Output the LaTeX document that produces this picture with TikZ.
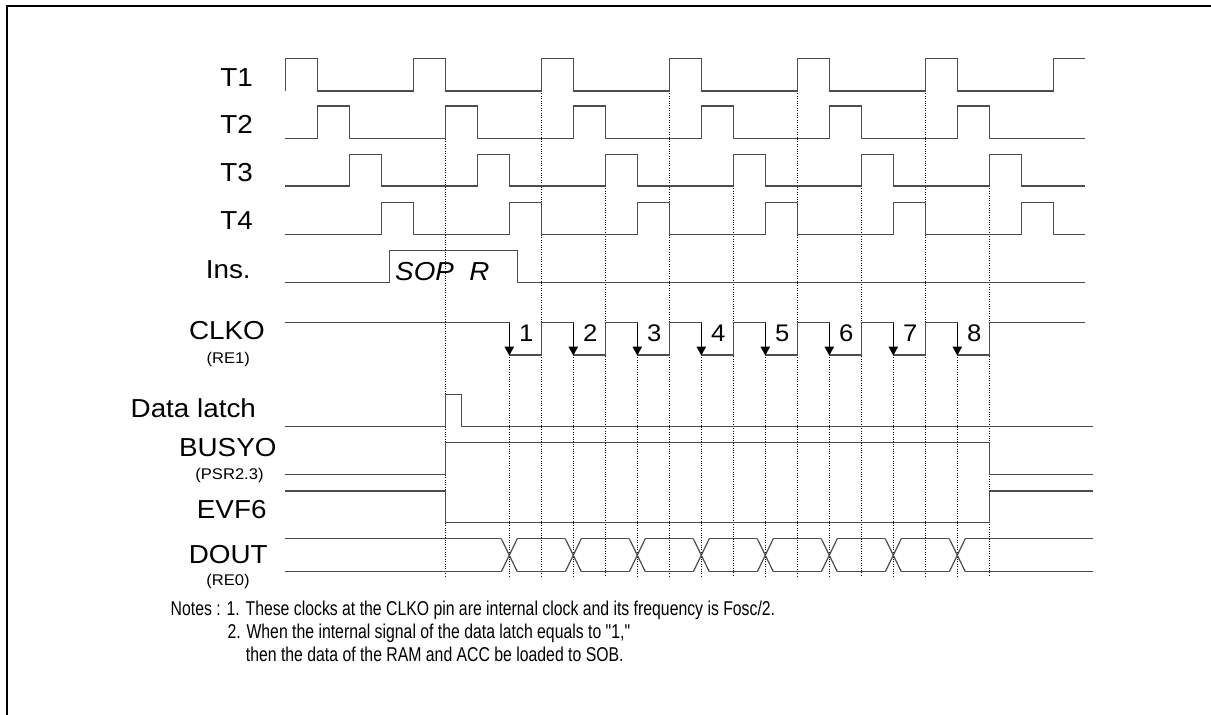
\documentclass[tikz,border=0pt]{standalone}
\usepackage{fontspec}
\setmainfont{Liberation Sans}
\newfontfamily\labfont[FakeStretch=1.07]{Liberation Sans}
\newfontfamily\notefont[FakeStretch=0.79]{Liberation Sans}
\usetikzlibrary{arrows.meta}
\newcommand\KX[1]{285.3+32*(#1)}
\begin{document}
\begin{tikzpicture}[x=1pt,y=-1pt,
  sig/.style={draw=black!70,line width=1.2pt},
  dotline/.style={draw=black,line width=0.7pt,dash pattern=on 0.8pt off 1.6pt},
  clkarrow/.style={draw=black,line width=1.1pt,-{Triangle[width=9.5pt,length=9pt]}},
  lab/.style={font={\labfont\fontsize{26}{30}\selectfont},anchor=base,inner sep=0pt},
  sublab/.style={font={\labfont\fontsize{15.5}{18}\selectfont},anchor=base,inner sep=0pt},
  num/.style={font={\labfont\fontsize{24}{28}\selectfont},anchor=base,inner sep=0pt},
  note/.style={font={\notefont\fontsize{20}{24}\selectfont},anchor=base west,inner sep=0pt}]
\useasboundingbox (0,0) rectangle (1211,715);
\fill[white] (0,0) rectangle (1211,715);
% frame
\draw[line width=2pt] (7,720) -- (7,6) -- (1220,6);
% dotted guides
\draw[dotline] ({\KX{5}},138.7) -- ({\KX{5}},577);
\foreach \k in {8,12,16,20} \draw[dotline] ({\KX{\k}},91) -- ({\KX{\k}},577);
\foreach \k in {10,14,18,22} \draw[dotline] ({\KX{\k}},186) -- ({\KX{\k}},577);
\foreach \k in {7,9,...,21} \draw[dotline] ({\KX{\k}},355) -- ({\KX{\k}},577);
% T1
\draw[sig] ({\KX{0}},91) \foreach \k in {0,4,...,20}{ -- ({\KX{\k}},91) -- ({\KX{\k}},58.3) -- ({\KX{\k+1}},58.3) -- ({\KX{\k+1}},91)} -- ({\KX{24}},91) -- ({\KX{24}},58.3) -- ({\KX{25}},58.3);
% T2
\draw[sig] ({\KX{0}},138.7) \foreach \k in {1,5,...,21}{ -- ({\KX{\k}},138.7) -- ({\KX{\k}},106) -- ({\KX{\k+1}},106) -- ({\KX{\k+1}},138.7)} -- ({\KX{25}},138.7);
% T3
\draw[sig] ({\KX{0}},186) \foreach \k in {2,6,...,22}{ -- ({\KX{\k}},186) -- ({\KX{\k}},154.3) -- ({\KX{\k+1}},154.3) -- ({\KX{\k+1}},186)} -- ({\KX{25}},186);
% T4
\draw[sig] ({\KX{0}},234.3) \foreach \k in {3,7,...,23}{ -- ({\KX{\k}},234.3) -- ({\KX{\k}},202.7) -- ({\KX{\k+1}},202.7) -- ({\KX{\k+1}},234.3)} -- ({\KX{25}},234.3);
% Ins
\draw[sig] ({\KX{0}},282.7) -- ({\KX{3.25}},282.7) -- ({\KX{3.25}},250.7) -- ({\KX{7.25}},250.7) -- ({\KX{7.25}},282.7) -- ({\KX{25}},282.7);
% CLKO
\draw[sig] ({\KX{0}},322.7) \foreach \k in {7,9,...,21}{ -- ({\KX{\k}},322.7) -- ({\KX{\k}},355) -- ({\KX{\k+1}},355) -- ({\KX{\k+1}},322.7)} -- ({\KX{25}},322.7);
\foreach \k in {7,9,...,21} \draw[clkarrow] ({\KX{\k}},322.7) -- ({\KX{\k}},355.5);
\foreach \k/\n in {7/1,9/2,11/3,13/4,15/5,17/6,19/7,21/8} \node[num] (num\n) at ({\KX{\k}+17},341.7) {\n};
% Data latch
\draw[sig] ({\KX{0}},426.7) -- ({\KX{5}},426.7) -- ({\KX{5}},394.3) -- ({\KX{5.5}},394.3) -- ({\KX{5.5}},426.7) -- ({\KX{25.25}},426.7);
% BUSYO
\draw[sig] ({\KX{0}},474.3) -- ({\KX{5}},474.3) -- ({\KX{5}},442.7) -- ({\KX{22}},442.7) -- ({\KX{22}},474.3) -- ({\KX{25.25}},474.3);
% EVF6
\draw[sig] ({\KX{0}},491) -- ({\KX{5}},491) -- ({\KX{5}},522.7) -- ({\KX{22}},522.7) -- ({\KX{22}},491) -- ({\KX{25.25}},491);
% DOUT
\draw[sig] ({\KX{0}},538.7) -- ({\KX{7}-8},538.7);
\draw[sig] ({\KX{0}},571.7) -- ({\KX{7}-8},571.7);
\foreach \k in {7,9,...,21}{
  \draw[sig] ({\KX{\k}-8},538.7) -- ({\KX{\k}+8},571.7);
  \draw[sig] ({\KX{\k}-8},571.7) -- ({\KX{\k}+8},538.7);
}
\foreach \k in {7,9,...,19}{
  \draw[sig] ({\KX{\k}+8},538.7) -- ({\KX{\k+2}-8},538.7);
  \draw[sig] ({\KX{\k}+8},571.7) -- ({\KX{\k+2}-8},571.7);
}
\draw[sig] ({\KX{21}+8},538.7) -- ({\KX{25.25}},538.7);
\draw[sig] ({\KX{21}+8},571.7) -- ({\KX{25.25}},571.7);
% labels
\node[lab] (lT1) at (236.7,86.5) {T1};
\node[lab] (lT2) at (236.7,133.3) {T2};
\node[lab] (lT3) at (236.7,181.5) {T3};
\node[lab] (lT4) at (236.7,229.3) {T4};
\node[lab] (lIns) at (228.3,278.3) {Ins.};
\node[lab,font={\labfont\itshape\fontsize{26}{30}\selectfont},anchor=base west] (lsop) at (395,280) {SOP~~R};
\node[lab] (lclko) at (227,339.7) {CLKO};
\node[sublab] (lre1) at (228.3,363.5) {(RE1)};
\node[lab] (ldl) at (193.3,417.3) {Data latch};
\node[lab] (lbusy) at (227.8,456.2) {BUSYO};
\node[sublab] (lpsr) at (229.5,479.5) {(PSR2.3)};
\node[lab] (levf) at (231.7,518.3) {EVF6};
\node[lab] (ldout) at (228.2,563) {DOUT};
\node[sublab] (lre0) at (228,585) {(RE0)};
% notes
\node[note] (note1) at (170.5,615) {Notes : 1. These clocks at the CLKO pin are internal clock and its frequency is Fosc/2.};
\node[note] (note2) at (227.3,638.3) {2. When the internal signal of the data latch equals to "1,"};
\node[note] (note3) at (245.7,661.7) {then the data of the RAM and ACC be loaded to SOB.};
\end{tikzpicture}
\end{document}
